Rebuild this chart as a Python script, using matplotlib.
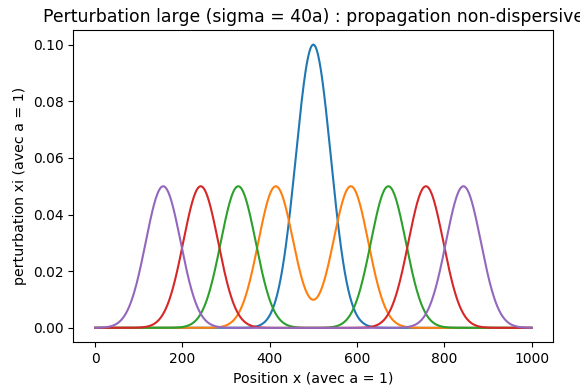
import numpy as np
import matplotlib
matplotlib.use("Agg")
import matplotlib.pyplot as plt

# Values
sigma = 40.0                      # pulse width (from title)
x_center = 500.0                  # initial pulse centre
half_amplitude = 0.05             # each travelling half-pulse
offsets = [0, 86, 172, 258, 344]  # distance travelled by each half-pulse at each snapshot
colors = ["#1f77b4", "#ff7f0e", "#2ca02c", "#d62728", "#9467bd"]
x_min, x_max, n_points = 0, 1000, 1001

title = "Perturbation large (sigma = 40a) : propagation non-dispersive"
xlabel = "Position x (avec a = 1)"
ylabel = "perturbation xi (avec a = 1)"

x = np.linspace(x_min, x_max, n_points)

fig = plt.figure(figsize=(5.8, 3.89), dpi=100)
ax = fig.add_axes([0.1264, 0.1208, 0.954 - 0.1264, 0.9216 - 0.1208])

for d, c in zip(offsets, colors):
    y = half_amplitude * (np.exp(-(x - (x_center - d)) ** 2 / (2 * sigma ** 2))
                          + np.exp(-(x - (x_center + d)) ** 2 / (2 * sigma ** 2)))
    ax.plot(x, y, color=c, lw=1.5)

ax.set_title(title, fontsize=12.4)
ax.set_xlabel(xlabel, fontsize=10.2)
ax.set_ylabel(ylabel, fontsize=10.2)
ax.set_xticks([0, 200, 400, 600, 800, 1000])
ax.set_yticks([0.0, 0.02, 0.04, 0.06, 0.08, 0.10])
ax.yaxis.set_major_formatter(matplotlib.ticker.FormatStrFormatter("%.2f"))

fig.savefig("out.png", dpi=100)
